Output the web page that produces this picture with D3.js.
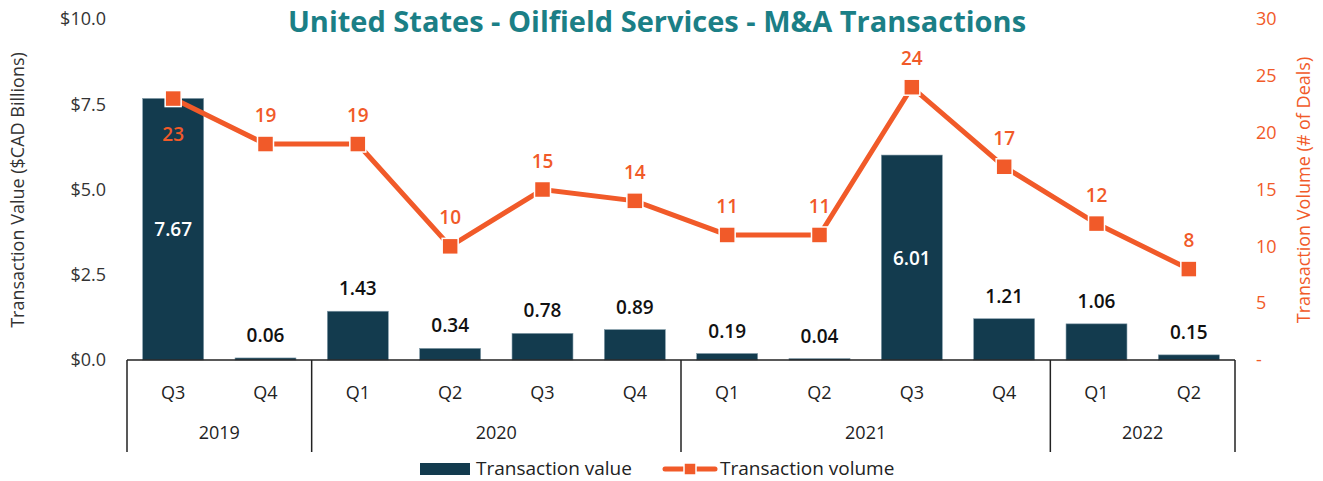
<!DOCTYPE html>
<html lang="en">
<head>
  <meta charset="UTF-8">
  <title>Oilfield Services M&amp;A</title>
  <style>
    body { margin: 0; background: #fff; }
    svg { font-family: "Open Sans", "Noto Sans", sans-serif; display: block; }
  </style>
</head>
<body>
  <svg id="svg" width="1323" height="481"></svg>

  <script src="https://d3js.org/d3.v7.min.js"></script>
  <script>
    const quarters = ['Q3', 'Q4', 'Q1', 'Q2', 'Q3', 'Q4', 'Q1', 'Q2', 'Q3', 'Q4', 'Q1', 'Q2']
    const years = ['2019', '2019', '2020', '2020', '2020', '2020', '2021', '2021', '2021', '2021', '2022', '2022']
    const txValue = [7.67, 0.06, 1.43, 0.34, 0.78, 0.89, 0.19, 0.04, 6.01, 1.21, 1.06, 0.15]
    const txVolume = [23, 19, 19, 10, 15, 14, 11, 11, 24, 17, 12, 8]
    const leftTicks = [0, 2.5, 5, 7.5, 10]
    const rightTicks = [0, 5, 10, 15, 20, 25, 30]

    const navy = '#133b4e'
    const orange = '#f15a29'

    const margin = { top: 19, left: 127, right: 88, bottom: 121 }
    const width = 1323
    const height = 481
    const baseY = height - margin.bottom  // 360

    const svg = d3.select('#svg')
    const keys = quarters.map((q, i) => i)

    // x scale
    const xscale = d3.scaleBand()
      .domain(keys)
      .range([margin.left, width - margin.right])
      .paddingInner(0.34)
      .paddingOuter(0.17)

    const step = xscale.step()
    const xMid = i => xscale(i) + xscale.bandwidth() / 2

    // y scales
    const yLeft = d3.scaleLinear().domain([0, 10]).range([baseY, margin.top])
    const yRight = d3.scaleLinear().domain([0, 30]).range([baseY, margin.top])

    // title
    svg.append('text')
      .attr('x', 657).attr('y', 32)
      .attr('text-anchor', 'middle')
      .attr('font-size', 29).attr('font-weight', 700)
      .attr('fill', '#1b7f86')
      .text('United States - Oilfield Services - M&A Transactions')

    // left axis
    const leftAxis = d3.axisLeft(yLeft)
      .tickValues(leftTicks)
      .tickSize(0).tickPadding(0)
      .tickFormat(d => '$' + d3.format('.1f')(d))
    const gl = svg.append('g')
      .attr('transform', `translate(${margin.left - 21}, 0)`)
      .call(leftAxis)
    gl.select('.domain').remove()
    gl.selectAll('text').attr('font-size', 18).attr('fill', '#333')
      .attr('font-family', '"Open Sans", sans-serif')

    svg.append('text')
      .attr('transform', `translate(24, 190) rotate(-90)`)
      .attr('text-anchor', 'middle')
      .attr('font-size', 18).attr('fill', '#333')
      .text('Transaction Value ($CAD Billions)')

    // right axis
    const rightAxis = d3.axisRight(yRight)
      .tickValues(rightTicks)
      .tickSize(0).tickPadding(0)
      .tickFormat(d => d === 0 ? '-' : d)
    const gr = svg.append('g')
      .attr('transform', `translate(${width - margin.right + 21}, 0)`)
      .call(rightAxis)
    gr.select('.domain').remove()
    gr.selectAll('text').attr('font-size', 18).attr('fill', orange)
      .attr('font-family', '"Open Sans", sans-serif')

    svg.append('text')
      .attr('transform', `translate(1310, 190) rotate(-90)`)
      .attr('text-anchor', 'middle')
      .attr('font-size', 18).attr('fill', orange)
      .text('Transaction Volume (# of Deals)')

    // bars
    svg.append('g')
      .selectAll('rect')
      .data(txValue)
      .enter()
      .append('rect')
      .attr('x', (d, i) => xscale(i))
      .attr('y', d => yLeft(d))
      .attr('width', xscale.bandwidth())
      .attr('height', d => baseY - yLeft(d))
      .attr('fill', navy)
      .attr('stroke', '#7f98a6').attr('stroke-width', 0.6)

    // bar labels
    svg.append('g')
      .selectAll('text')
      .data(txValue)
      .enter()
      .append('text')
      .attr('x', (d, i) => xMid(i))
      .attr('y', d => d > 5 ? (yLeft(d) + baseY) / 2 + 7 : yLeft(d) - 16)
      .attr('text-anchor', 'middle')
      .attr('font-size', 19).attr('font-weight', 600)
      .attr('fill', d => d > 5 ? '#fff' : '#111')
      .text(d => d3.format('.2f')(d))

    // x axis baseline + category separators
    const xa = svg.append('g').attr('stroke', '#222').attr('stroke-width', 1.5)
    xa.append('line')
      .attr('x1', margin.left).attr('x2', width - margin.right)
      .attr('y1', baseY).attr('y2', baseY)
    const bounds = [0]
    years.forEach((y, i) => { if (i > 0 && y !== years[i - 1]) bounds.push(i) })
    bounds.push(years.length)
    bounds.forEach(b => {
      const x = margin.left + b * step
      xa.append('line').attr('x1', x).attr('x2', x)
        .attr('y1', baseY).attr('y2', baseY + 92)
    })

    // quarter labels
    svg.append('g')
      .selectAll('text')
      .data(quarters)
      .enter()
      .append('text')
      .attr('x', (d, i) => xMid(i))
      .attr('y', baseY + 39)
      .attr('text-anchor', 'middle')
      .attr('font-size', 18).attr('fill', '#222')
      .text(d => d)

    // year labels
    const yearGroups = d3.groups(keys, i => years[i])
    svg.append('g')
      .selectAll('text')
      .data(yearGroups)
      .enter()
      .append('text')
      .attr('x', d => (xMid(d[1][0]) + xMid(d[1][d[1].length - 1])) / 2)
      .attr('y', baseY + 79)
      .attr('text-anchor', 'middle')
      .attr('font-size', 18).attr('fill', '#222')
      .text(d => d[0])

    // volume line
    const line = d3.line()
      .x((d, i) => xMid(i))
      .y(d => yRight(d))
    svg.append('path')
      .datum(txVolume)
      .attr('d', line)
      .attr('fill', 'none')
      .attr('stroke', orange)
      .attr('stroke-width', 5)

    svg.append('g')
      .selectAll('rect')
      .data(txVolume)
      .enter()
      .append('rect')
      .attr('x', (d, i) => xMid(i) - 8)
      .attr('y', d => yRight(d) - 8)
      .attr('width', 16).attr('height', 16)
      .attr('fill', orange)
      .attr('stroke', '#fff').attr('stroke-width', 1.5)

    // volume labels (first one sits below its marker, inside the bar)
    svg.append('g')
      .selectAll('text')
      .data(txVolume)
      .enter()
      .append('text')
      .attr('x', (d, i) => xMid(i))
      .attr('y', (d, i) => i === 0 ? yRight(d) + 42 : yRight(d) - 22)
      .attr('text-anchor', 'middle')
      .attr('font-size', 19).attr('font-weight', 600)
      .attr('fill', orange)
      .text(d => d)

    // legend
    const lg = svg.append('g')
    lg.append('rect')
      .attr('x', 420).attr('y', 463).attr('width', 50).attr('height', 12)
      .attr('fill', navy)
    lg.append('text')
      .attr('x', 476).attr('y', 475)
      .attr('font-size', 19).attr('fill', '#222')
      .text('Transaction value')
    lg.append('line')
      .attr('x1', 665).attr('x2', 715).attr('y1', 469).attr('y2', 469)
      .attr('stroke', orange).attr('stroke-width', 5).attr('stroke-linecap', 'round')
    lg.append('rect')
      .attr('x', 684).attr('y', 463).attr('width', 12).attr('height', 12)
      .attr('fill', orange).attr('stroke', '#fff').attr('stroke-width', 1.5)
    lg.append('text')
      .attr('x', 720).attr('y', 475)
      .attr('font-size', 19).attr('fill', '#222')
      .text('Transaction volume')
  </script>
</body>
</html>
